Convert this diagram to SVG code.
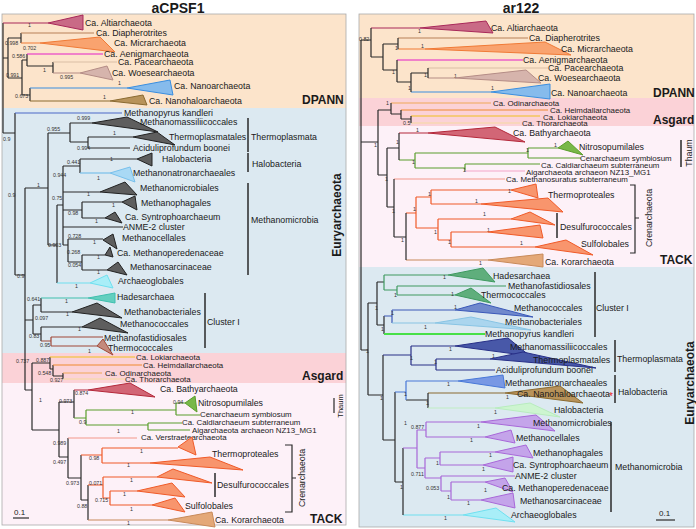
<svg xmlns="http://www.w3.org/2000/svg" width="696" height="529" viewBox="0 0 696 529">
<style>
text{font-family:"Liberation Sans",Arial,sans-serif;fill:#1a1a1a}
.l{font-size:8.8px}
.s{font-size:7.9px}
.b{font-size:5.3px;fill:#333}
.g{font-size:12px;font-weight:bold}
.ttl{font-size:14px;font-weight:bold}
path{fill:none;stroke-width:1.2}
.e{stroke:#2a2a2a}
.bar{stroke:#2a2a2a;stroke-width:1.5}
.c-alti{stroke:#a8285a}.c-diaph{stroke:#b88058}.c-micr{stroke:#f07a36}.c-aenig{stroke:#e41ec8}
.c-pace{stroke:#d9bda5}.c-woese{stroke:#b48c86}.c-nano{stroke:#3a8ee0}.c-nhalo{stroke:#8a6a30}
.c-mpyr{stroke:#4a68c8}.c-lblue{stroke:#78c0ec}.c-cyan{stroke:#6fe0f0}.c-teal{stroke:#3fbfae}
.c-brown{stroke:#a04838}.c-loki{stroke:#f0c020}.c-heim{stroke:#f08a30}.c-odin{stroke:#f0a858}
.c-thor{stroke:#f6d9a0}.c-bathy{stroke:#b4283a}.c-green{stroke:#5a9e2c}.c-verst{stroke:#f4988a}
.c-creno{stroke:#f05a28}.c-kor{stroke:#c88a5a}.c-aigar{stroke:#f4a6c8}.c-hades{stroke:#3f9a60}
.c-mcocc{stroke:#3a58b8}.c-mbact{stroke:#88c4e4}.c-mpg{stroke:#48e048;stroke-width:2}
.c-navy{stroke:#283088}.c-natron{stroke:#4878d8}.c-halo{stroke:#bfeec4}.c-purple{stroke:#a868d8}
polygon{stroke-width:1}
.t-alti{fill:#c96a86;stroke:#a8285a}.t-micr{fill:#f9a36f;stroke:#f07a36}.t-woese{fill:#d6b4ac;stroke:#b48c86}
.t-nano{fill:#86bbec;stroke:#3a8ee0}.t-nhalo{fill:#b8935a;stroke:#8a6a30}.t-grey{fill:#5e5e5e;stroke:#222}
.t-lblue{fill:#a9d9f5;stroke:#78c0ec}.t-cyan{fill:#a8eef8;stroke:#6fe0f0}.t-teal{fill:#63cfbf;stroke:#3fbfae}
.t-brown{fill:#c48a7c;stroke:#a04838}.t-bathy{fill:#d26676;stroke:#b4283a}.t-green{fill:#78b848;stroke:#5a9e2c}
.t-creno{fill:#f8956d;stroke:#f05a28}.t-kor{fill:#e4a878;stroke:#c88a5a}.t-hades{fill:#5fae7c;stroke:#3f9a60}
.t-mcocc{fill:#7089cc;stroke:#3a58b8}.t-mbact{fill:#aad5ee;stroke:#88c4e4}.t-navy{fill:#4858a8;stroke:#283088}
.t-natron{fill:#7898e4;stroke:#4878d8}.t-halo{fill:#cdf5d0;stroke:#b8ecbe}.t-purple{fill:#c4a4ea;stroke:#a868d8}
</style>
<rect width="696" height="529" fill="#ffffff"/>
<g id="backgrounds">
<rect x="2" y="14" width="344" height="94" fill="#fce4cb"/>
<rect x="2" y="108" width="344" height="245" fill="#dce9f1"/>
<rect x="2" y="353" width="344" height="30" fill="#fbd2d7"/>
<rect x="2" y="383" width="344" height="142" fill="#fdf1f8"/>
<rect x="2" y="14" width="344" height="511" fill="none" stroke="#aaa" stroke-width="0.8"/>
<rect x="359" y="14" width="335" height="84" fill="#fce4cb"/>
<rect x="359" y="98" width="335" height="28" fill="#fbd2d7"/>
<rect x="359" y="126" width="335" height="141" fill="#fdf1f8"/>
<rect x="359" y="267" width="335" height="260" fill="#dce9f1"/>
<rect x="359" y="14" width="335" height="513" fill="none" stroke="#aaa" stroke-width="0.8"/>
</g>
<g id="titles">
<text class="ttl" x="178" y="13" text-anchor="middle">aCPSF1</text>
<text class="ttl" x="521" y="13" text-anchor="middle">ar122</text>
<text class="g" x="302" y="104">DPANN</text>
<text class="g" x="302" y="380">Asgard</text>
<text class="g" x="310" y="523">TACK</text>
<text class="g" transform="translate(341,215) rotate(-90)" text-anchor="middle">Euryarchaeota</text>
<text class="g" x="653" y="97">DPANN</text>
<text class="g" x="653" y="124">Asgard</text>
<text class="g" x="660" y="264">TACK</text>
<text class="g" transform="translate(694,383) rotate(-90)" text-anchor="middle">Euryarchaeota</text>
</g>
<g id="connectors">
<path class="e" d="M3,23V133M3,58H8M8,38V78M8,38H21M8,78H22M21,33V43M22,60V95M22,60H27M27,54V66M27,66H53M53,62V73M22,95H30M30,88V101M3,133H15M15,113V275M15,275H25M25,188V390M25,188H48M48,133V245M48,133H70M70,123V142M70,142H88M88,137V148M48,245H57M57,205V283M57,205H63M63,166V245M63,166H80M80,159V173M63,210H82M82,202V218M63,245H68M68,239V262M68,262H82M82,255V270M25,320H33M33,305V334M33,305H41M41,298V312M33,334H41M41,327V341M25,390H32M32,363V430M32,363H50M50,357V369M50,369H53M53,365V376M53,376H63M63,373V379M32,430H59M59,402V457M59,402H74M74,390V418M59,457H68M68,438V478M68,478H81M81,455V500M81,500H88M88,485V520"/>
<path class="e" d="M70,123H92M88,137H133M88,148H130M80,159H137M63,192H100M82,202H122M82,218H105M63,227H123M68,239H103M82,255H105M82,270H107M41,312H72M41,327H82"/>
<path class="c-alti" d="M3,23H48M371,28H420"/>
<path class="c-diaph" d="M21,33H94M398,38H528"/>
<path class="c-micr" d="M21,43H40M398,49H425"/>
<path class="c-aenig" d="M27,54H103M397,60H523"/>
<path class="c-pace" d="M53,62H117M428,68H548"/>
<path class="c-woese" d="M53,73H80M428,78H455"/>
<path class="c-nano" d="M30,88H127M411,92H491"/>
<path class="c-nhalo" d="M30,101H110M428,393H505"/>
<path class="c-mpyr" d="M15,113H122"/>
<path class="c-lblue" d="M80,173H110"/>
<path class="c-cyan" d="M57,283H90M403,515H463"/>
<path class="c-teal" d="M41,298H88"/>
<path class="c-brown" d="M41,341H51M51,337V346M51,337H103M51,346H97"/>
<path class="c-loki" d="M50,357H135M411,116H540"/>
<path class="c-heim" d="M53,365H142M401,110H548"/>
<path class="c-odin" d="M63,373H102M391,103H491"/>
<path class="c-thor" d="M63,379H125M411,123H520"/>
<path class="c-bathy" d="M74,390H88M399,133H428"/>
<path class="c-green" d="M74,418H86M86,410V425M86,410H176M86,425H148M176,403V415M176,403H185M176,415H200M148,423V430M148,423H182M148,430H190M399,160H415M415,153V168M415,153H528M528,148V158M528,148H558M528,158H581M415,168H465M465,164V171M465,164H540"/>
<path class="c-aigar" d="M465,171H525"/>
<path class="c-verst" d="M68,438H137M394,179H505"/>
<path class="c-creno" d="M81,455H102M102,448V463M102,448H178M102,463H150M88,485H103M103,477V498M103,477H157M103,498H110M110,491V505M110,491H137M110,505H152M406,213H416M416,197V228M416,197H431M431,190V204M431,190H511M431,204H481M416,228H438M438,219V240M438,219H511M438,240H451M451,232V247M451,232H488M451,247H535"/>
<path class="c-kor" d="M88,520H168M406,260H488"/>
<path class="e" d="M361,40V350M361,40H371M371,28V57M371,57H383M383,44V70M383,44H398M398,38V49M383,70H397M397,60V82M397,82H411M411,73V92M411,73H428M428,68V78M361,142H378M378,110V175M378,110H391M391,103V114M391,114H401M401,110V119M401,119H411M411,116V123M378,175H387M387,148V207M387,148H399M399,133V160M387,207H394M394,179V237M394,237H406M406,213V260M361,350H368M368,303V395M368,303H377M377,282V325M377,282H384M377,325H384M384,316V334M368,395H383M383,355V440M383,440H395M395,392V482M395,482H403M403,448V515M406,400H428M428,393V408"/>
<path class="c-hades" d="M384,275V290M384,275H448M384,290H397M397,286V295M397,286H506M397,295H455"/>
<path class="c-mcocc" d="M384,316H392M392,310V323M392,310H455"/>
<path class="c-mbact" d="M392,323H435"/>
<path class="c-mpg" d="M384,334H485"/>
<path class="c-navy" d="M383,355H411M411,346V365M411,346H455M411,365H436M436,359V370M436,359H490M436,370H495"/>
<path class="c-natron" d="M395,392H406M406,381V400M406,381H458"/>
<path class="c-halo" d="M428,408H495"/>
<path class="c-purple" d="M403,448H417M417,430V468M417,430H426M426,422V437M426,422H481M426,437H485M417,468H425M425,458V478M425,458H440M440,452V465M440,452H495M440,465H483M425,478H441M441,476V491M441,476H515M441,491H451M451,482V500M451,482H485M451,500H481"/>
</g>
<g id="support-left">
<text class="b" x="28" y="27">1</text><text class="b" x="5" y="45">0.998</text><text class="b" x="23" y="50">0.702</text>
<text class="b" x="12" y="58">0.586</text><text class="b" x="43" y="72">1</text><text class="b" x="60" y="79">0.995</text>
<text class="b" x="6" y="77">0.991</text><text class="b" x="118" y="85">1</text><text class="b" x="15" y="98">0.673</text>
<text class="b" x="103" y="99">1</text><text class="b" x="3" y="141">0.9</text><text class="b" x="77" y="120">0.999</text>
<text class="b" x="47" y="131">0.955</text><text class="b" x="113" y="135">1</text><text class="b" x="77" y="150">0.994</text>
<text class="b" x="67" y="164">0.441</text><text class="b" x="110" y="161">1</text><text class="b" x="97" y="180">1</text>
<text class="b" x="53" y="177">0.944</text><text class="b" x="87" y="196">1</text><text class="b" x="52" y="200">0.75</text>
<text class="b" x="112" y="207">1</text><text class="b" x="68" y="215">0.98</text><text class="b" x="95" y="223">1</text>
<text class="b" x="68" y="238">0.728</text><text class="b" x="93" y="244">1</text><text class="b" x="67" y="254">0.268</text>
<text class="b" x="97" y="259">1</text><text class="b" x="68" y="267">0.054</text><text class="b" x="97" y="274">1</text>
<text class="b" x="48" y="247">0.903</text><text class="b" x="37" y="187">1</text><text class="b" x="8" y="197">0.9</text>
<text class="b" x="17" y="278">0.9</text><text class="b" x="75" y="288">1</text><text class="b" x="27" y="301">0.641</text>
<text class="b" x="65" y="303">1</text><text class="b" x="66" y="316">1</text><text class="b" x="35" y="320">0.097</text>
<text class="b" x="78" y="331">1</text><text class="b" x="29" y="338">0.83</text><text class="b" x="40" y="347">0.95</text>
<text class="b" x="88" y="353">1</text><text class="b" x="16" y="363">0.737</text><text class="b" x="36" y="362">0.887</text>
<text class="b" x="38" y="375">0.548</text><text class="b" x="50" y="382">0.927</text><text class="b" x="39" y="402">1</text>
<text class="b" x="75" y="395">0.874</text><text class="b" x="59" y="403">0.973</text><text class="b" x="173" y="404">0.94</text>
<text class="b" x="131" y="414">1</text><text class="b" x="79" y="424">0.9</text><text class="b" x="117" y="433">1</text>
<text class="b" x="53" y="445">0.989</text><text class="b" x="140" y="453">1</text><text class="b" x="89" y="460">0.98</text>
<text class="b" x="127" y="467">1</text><text class="b" x="53" y="464">0.497</text><text class="b" x="89" y="485">0.071</text>
<text class="b" x="130" y="482">1</text><text class="b" x="66" y="485">0.973</text><text class="b" x="123" y="496">1</text>
<text class="b" x="95" y="502">0.715</text><text class="b" x="130" y="511">1</text><text class="b" x="77" y="508">0.88</text>
<text class="b" x="127" y="525">1</text>
</g>
<g id="support-right">
<text class="b" x="359" y="41">0.82</text><text class="b" x="418" y="33">1</text><text class="b" x="395" y="50">1</text>
<text class="b" x="421" y="48">1</text><text class="b" x="392" y="74">1</text><text class="b" x="424" y="77">1</text>
<text class="b" x="454" y="78">1</text><text class="b" x="408" y="90">1</text><text class="b" x="491" y="90">1</text>
<text class="b" x="386" y="105">1</text><text class="b" x="403" y="125">0.5</text><text class="b" x="374" y="147">1</text>
<text class="b" x="396" y="144">1</text><text class="b" x="416" y="132">1</text><text class="b" x="554" y="147">1</text>
<text class="b" x="526" y="152">1</text><text class="b" x="412" y="164">1</text><text class="b" x="463" y="172">1</text>
<text class="b" x="385" y="181">1</text><text class="b" x="428" y="196">1</text><text class="b" x="508" y="193">1</text>
<text class="b" x="475" y="203">1</text><text class="b" x="413" y="211">1</text><text class="b" x="392" y="213">1</text>
<text class="b" x="483" y="216">1</text><text class="b" x="434" y="234">1</text><text class="b" x="487" y="232">1</text>
<text class="b" x="448" y="244">1</text><text class="b" x="520" y="245">1</text><text class="b" x="401" y="242">1</text>
<text class="b" x="479" y="265">1</text><text class="b" x="443" y="279">1</text><text class="b" x="451" y="296">1</text>
<text class="b" x="394" y="297">1</text><text class="b" x="375" y="310">1</text><text class="b" x="454" y="309">1</text>
<text class="b" x="391" y="315">1</text><text class="b" x="424" y="329">1</text><text class="b" x="381" y="331">1</text>
<text class="b" x="449" y="351">1</text><text class="b" x="366" y="353">1</text><text class="b" x="410" y="360">1</text>
<text class="b" x="492" y="358">1</text><text class="b" x="434" y="364">1</text><text class="b" x="447" y="386">1</text>
<text class="b" x="404" y="396">1</text><text class="b" x="380" y="400">1</text><text class="b" x="426" y="405">1</text>
<text class="b" x="506" y="399">1</text><text class="b" x="494" y="414">1</text><text class="b" x="404" y="425">1</text>
<text class="b" x="411" y="429">0.877</text><text class="b" x="477" y="428">1</text><text class="b" x="470" y="442">1</text>
<text class="b" x="489" y="457">1</text><text class="b" x="436" y="465">1</text><text class="b" x="482" y="471">1</text>
<text class="b" x="411" y="476">0.711</text><text class="b" x="426" y="490">0.053</text><text class="b" x="484" y="492">1</text>
<text class="b" x="447" y="499">1</text><text class="b" x="467" y="505">1</text><text class="b" x="400" y="489">1</text>
<text class="b" x="444" y="520">1</text>
</g>
<g id="left-leaves">
<g id="L-alti"><polygon class="t-alti" points="48,23 83,15 83,30"/><text class="l" x="85" y="26">Ca. Altiarchaeota</text></g>
<g id="L-diaph"><text class="l" x="96" y="36">Ca. Diapherotrites</text></g>
<g id="L-micr"><polygon class="t-micr" points="40,43 100,37 115,52"/><text class="l" x="114" y="46">Ca. Micrarchaeota</text></g>
<g id="L-aenig"><text class="l" x="104" y="57">Ca. Aenigmarchaeota</text></g>
<g id="L-pace"><text class="l" x="118" y="65">Ca. Pacearchaeota</text></g>
<g id="L-woese"><polygon class="t-woese" points="80,73 107,66 113,80"/><text class="l" x="112" y="76">Ca. Woesearchaeota</text></g>
<g id="L-nano"><polygon class="t-nano" points="127,88 170,80 173,95"/><text class="l" x="174" y="89">Ca. Nanoarchaeota</text></g>
<g id="L-nhalo"><polygon class="t-nhalo" points="110,101 143,95 147,105"/><text class="l" x="149" y="104">Ca. Nanohaloarchaeota</text></g>
<g id="L-mpyr"><text class="l" x="124" y="116">Methanopyrus kandleri</text></g>
<g id="L-mmass"><polygon class="t-grey" points="92,123 127,117 158,132"/><text class="l" x="140" y="125">Methanomassiliicoccales</text></g>
<g id="L-tplasm"><polygon class="t-grey" points="133,137 157,132 175,145"/><text class="l" x="169" y="140">Thermoplasmatales</text></g>
<g id="L-acid"><text class="l" x="133" y="151">Aciduliprofundum boonei</text></g>
<g id="L-halo"><polygon class="t-grey" points="137,159 152,153 152,166"/><text class="l" x="162" y="162">Halobacteria</text></g>
<g id="L-natron"><polygon class="t-lblue" points="110,173 130,167 135,182"/><text class="l" x="133" y="176">Methanonatronarchaeales</text></g>
<g id="L-mmicr"><polygon class="t-grey" points="100,192 125,182 137,195"/><text class="l" x="140" y="191">Methanomicrobiales</text></g>
<g id="L-mphag"><polygon class="t-grey" points="122,202 135,196 137,210"/><text class="l" x="141" y="206">Methanophagales</text></g>
<g id="L-synt"><polygon class="t-grey" points="105,218 115,212 122,223"/><text class="l" x="125" y="220">Ca. Syntrophoarchaeum</text></g>
<g id="L-anme"><text class="l" x="123" y="230">ANME-2 cluster</text></g>
<g id="L-mcell"><polygon class="t-grey" points="103,240 113,234 117,249"/><text class="l" x="122" y="241">Methanocellales</text></g>
<g id="L-mpere"><polygon class="t-grey" points="105,255 110,247 113,257"/><text class="l" x="117" y="256">Ca. Methanoperedenaceae</text></g>
<g id="L-msarc"><polygon class="t-grey" points="107,270 118,262 127,275"/><text class="l" x="130" y="270">Methanosarcinaceae</text></g>
<g id="L-archg"><polygon class="t-cyan" points="90,283 107,275 113,288"/><text class="l" x="118" y="284">Archaeoglobales</text></g>
<g id="L-hades"><polygon class="t-teal" points="88,298 115,293 115,303"/><text class="l" x="117" y="300">Hadesarchaea</text></g>
<g id="L-mbact"><polygon class="t-grey" points="72,312 97,303 122,318"/><text class="l" x="124" y="315">Methanobacteriales</text></g>
<g id="L-mcocc"><polygon class="t-grey" points="82,327 100,318 128,333"/><text class="l" x="120" y="327">Methanococcales</text></g>
<g id="L-mfast"><text class="l" x="104" y="341">Methanofastidiosales</text></g>
<g id="L-tcocc"><polygon class="t-brown" points="97,346 103,339 113,355"/><text class="l" x="108" y="351">Thermococcales</text></g>
<g id="L-loki"><text class="s" x="136" y="360">Ca. Lokiarchaeota</text></g>
<g id="L-heim"><text class="s" x="143" y="368">Ca. Heimdallarchaeota</text></g>
<g id="L-odin"><text class="s" x="105" y="376">Ca. Odinarchaeota</text></g>
<g id="L-thor"><text class="s" x="125" y="382">Ca. Thorarchaeota</text></g>
<g id="L-bathy"><polygon class="t-bathy" points="88,390 130,383 155,397"/><text class="l" x="160" y="392">Ca. Bathyarchaeota</text></g>
<g id="L-nitro"><polygon class="t-green" points="185,403 195,396 197,412"/><text class="l" x="198" y="406">Nitrosopumilales</text></g>
<g id="L-cen"><text class="s" x="200" y="417">Cenarchaeum symbiosum</text></g>
<g id="L-caldi"><text class="s" x="182" y="425">Ca. Caldiarchaeum subterraneum</text></g>
<g id="L-aigar"><text class="s" x="192" y="433">Aigarchaeota archaeon NZ13_MG1</text></g>
<g id="L-verst"><text class="s" x="141" y="440">Ca. Verstraetearchaeota</text></g>
<g id="L-tprot"><polygon class="t-creno" points="178,447 192,437 196,455"/><polygon class="t-creno" points="150,463 210,457 243,470"/><text class="l" x="212" y="457">Thermoproteales</text></g>
<g id="L-desulf"><polygon class="t-creno" points="157,477 173,469 212,483"/><polygon class="t-creno" points="137,491 172,483 185,497"/><text class="l" x="217" y="488">Desulfurococcales</text></g>
<g id="L-sulfo"><polygon class="t-creno" points="152,505 175,498 185,512"/><text class="l" x="185" y="509">Sulfolobales</text></g>
<g id="L-kor"><polygon class="t-kor" points="168,520 212,512 215,527"/><text class="l" x="215" y="523">Ca. Korarchaeota</text></g>
</g>
<g id="left-brackets">
<path class="bar" d="M248,118V152M248,153V172M248,183V275M205,293V348M215,473V497"/>
<path class="e" d="M334,398V413M285,445H292V512H285M292,478H296"/>
<text class="l" x="251" y="140">Thermoplasmata</text>
<text class="l" x="252" y="167">Halobacteria</text>
<text class="l" x="251" y="223">Methanomicrobia</text>
<text class="l" x="207" y="325">Cluster I</text>
<text transform="translate(343,406) rotate(-90)" text-anchor="middle" style="font-size:7.5px">Thaum</text>
<text class="l" transform="translate(305,478) rotate(-90)" text-anchor="middle">Crenarchaeota</text>
<path class="e" d="M13,518H29"/>
<text x="14" y="515" style="font-size:8px">0.1</text>
</g>
<g id="right-leaves">
<g id="R-alti"><polygon class="t-alti" points="420,28 486,21 493,33"/><text class="l" x="491" y="31">Ca. Altiarchaeota</text></g>
<g id="R-diaph"><text class="l" x="529" y="41">Ca. Diapherotrites</text></g>
<g id="R-micr"><polygon class="t-micr" points="425,49 545,42 571,55"/><text class="l" x="561" y="52">Ca. Micrarchaeota</text></g>
<g id="R-aenig"><text class="l" x="523" y="63">Ca. Aenigmarchaeota</text></g>
<g id="R-pace"><text class="l" x="548" y="71">Ca. Pacearchaeota</text></g>
<g id="R-woese"><polygon class="t-woese" points="455,78 526,70 541,83"/><text class="l" x="538" y="81">Ca. Woesearchaeota</text></g>
<g id="R-nano"><polygon class="t-nano" points="491,92 550,84 550,99"/><text class="l" x="551" y="96">Ca. Nanoarchaeota</text></g>
<g id="R-odin"><text class="s" x="493" y="106">Ca. Odinarchaeota</text></g>
<g id="R-heim"><text class="s" x="550" y="112.5">Ca. Heimdallarchaeota</text></g>
<g id="R-loki"><text class="s" x="543" y="119.5">Ca. Lokiarchaeota</text></g>
<g id="R-thor"><text class="s" x="522" y="126">Ca. Thorarchaeota</text></g>
<g id="R-bathy"><polygon class="t-bathy" points="428,133 495,127 525,142"/><text class="l" x="513" y="136">Ca. Bathyarchaeota</text></g>
<g id="R-nitro"><polygon class="t-green" points="558,148 568,141 583,155"/><text class="l" x="579" y="150">Nitrosopumilales</text></g>
<g id="R-cen"><text class="s" x="580" y="160.5">Cenarchaeum symbiosum</text></g>
<g id="R-caldi"><text class="s" x="541" y="167.5">Ca. Caldiarchaeum subterraneum</text></g>
<g id="R-aigar"><text class="s" x="526" y="175">Aigarchaeota archaeon NZ13_MG1</text></g>
<g id="R-msur"><text class="s" x="506" y="182">Ca. Methanosuratus subterraneum</text></g>
<g id="R-tprot"><polygon class="t-creno" points="511,190 536,184 538,198"/><polygon class="t-creno" points="481,204 548,198 563,212"/><text class="l" x="548" y="198">Thermoproteales</text></g>
<g id="R-desulf"><polygon class="t-creno" points="511,219 530,212 555,225"/><polygon class="t-creno" points="488,232 540,225 543,238"/><text class="l" x="560" y="230">Desulfurococcales</text></g>
<g id="R-sulfo"><polygon class="t-creno" points="535,247 566,240 593,255"/><text class="l" x="581" y="247">Sulfolobales</text></g>
<g id="R-kor"><polygon class="t-kor" points="488,260 543,254 543,267"/><text class="l" x="545" y="265">Ca. Korarchaeota</text></g>
<g id="R-hades"><polygon class="t-hades" points="448,275 483,268 495,282"/><text class="l" x="493" y="279">Hadesarchaea</text></g>
<g id="R-mfast"><text class="l" x="508" y="289">Methanofastidiosales</text></g>
<g id="R-tcocc"><polygon class="t-hades" points="455,295 471,288 491,303"/><text class="l" x="481" y="298">Thermococcales</text></g>
<g id="R-mcocc"><polygon class="t-mcocc" points="455,310 480,303 533,317"/><text class="l" x="514" y="311">Methanococcales</text></g>
<g id="R-mbact"><polygon class="t-mbact" points="435,323 471,317 531,330"/><text class="l" x="505" y="325">Methanobacteriales</text></g>
<g id="R-mpyr"><text class="l" x="485" y="337">Methanopyrus kandleri</text></g>
<g id="R-mmass"><polygon class="t-navy" points="455,346 508,338 530,356"/><text class="l" x="510" y="350">Methanomassiliicoccales</text></g>
<g id="R-tplasm"><polygon class="t-navy" points="490,359 523,352 596,368"/><text class="l" x="533" y="363">Thermoplasmatales</text></g>
<g id="R-acid"><text class="l" x="496" y="373">Aciduliprofundum boonei</text></g>
<g id="R-natron"><polygon class="t-natron" points="458,381 503,375 505,388"/><text class="l" x="505" y="386">Methanonatronarchaeales</text></g>
<g id="R-nhalo"><polygon class="t-nhalo" points="505,393 560,386 583,403"/><text class="l" x="517" y="397">Ca. Nanohaloarchaeota</text><text x="609" y="400" style="font-size:10px;fill:#e82020">*</text></g>
<g id="R-halo"><polygon class="t-halo" points="495,408 530,403 560,417"/><text class="l" x="554" y="413">Halobacteria</text></g>
<g id="R-mmicr"><polygon class="t-purple" points="481,422 536,415 555,431"/><text class="l" x="533" y="426">Methanomicrobiales</text></g>
<g id="R-mcell"><polygon class="t-purple" points="485,437 511,430 515,443"/><text class="l" x="516" y="441">Methanocellales</text></g>
<g id="R-mphag"><polygon class="t-purple" points="495,452 526,445 533,458"/><text class="l" x="533" y="456">Methanophagales</text></g>
<g id="R-synt"><polygon class="t-purple" points="483,465 513,457 513,472"/><text class="l" x="513" y="468">Ca. Syntrophoarchaeum</text></g>
<g id="R-anme"><text class="l" x="515" y="479">ANME-2 cluster</text></g>
<g id="R-mpere"><polygon class="t-purple" points="485,482 505,478 513,492"/><text class="l" x="502" y="491">Ca. Methanoperedenaceae</text></g>
<g id="R-msarc"><polygon class="t-purple" points="481,500 513,493 515,508"/><text class="l" x="520" y="504">Methanosarcinaceae</text></g>
<g id="R-archg"><polygon class="t-cyan" points="463,515 496,508 515,522"/><text class="l" x="511" y="518">Archaeoglobales</text></g>
</g>
<g id="right-brackets">
<path class="bar" d="M681,140V167M557,213V238M595,272V337M615,340V372M615,375V403M611,422V512"/>
<path class="e" d="M630,185H635V253H630M635,218H639"/>
<text class="l" transform="translate(692,153) rotate(-90)" text-anchor="middle">Thaum</text>
<text class="l" transform="translate(652,218) rotate(-90)" text-anchor="middle">Crenarchaeota</text>
<text class="l" x="596" y="311">Cluster I</text>
<text class="l" x="617" y="362">Thermoplasmata</text>
<text class="l" x="618" y="395">Halobacteria</text>
<text class="l" x="615" y="470">Methanomicrobia</text>
<path class="e" d="M656,520H675"/>
<text x="659" y="516" style="font-size:8px">0.1</text>
</g>
</svg>
